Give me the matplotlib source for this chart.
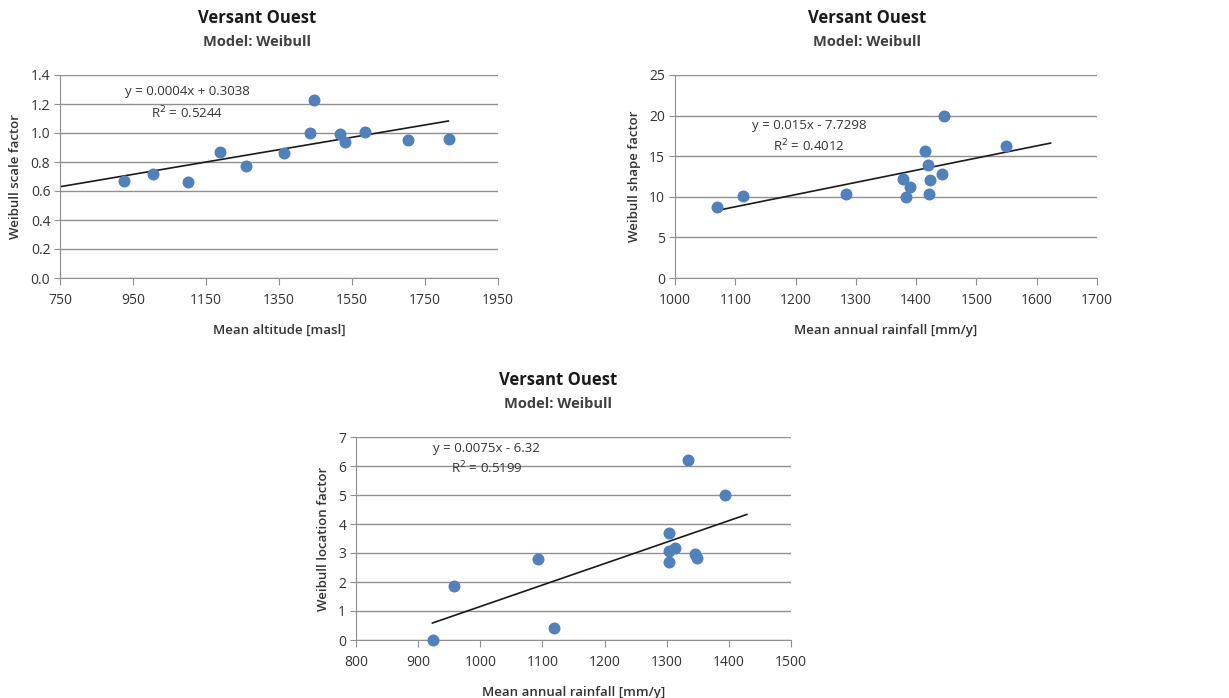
import matplotlib
matplotlib.use("Agg")
import matplotlib.pyplot as plt
import numpy as np

plt.rcParams['font.family'] = ['Open Sans', 'DejaVu Sans']

# ---------------- data ----------------
# Chart 1: scale factor vs altitude
alt_x = [925, 1006, 1100, 1189, 1259, 1365, 1436, 1445, 1517, 1530, 1586, 1704, 1817]
scale_y = [0.67, 0.72, 0.66, 0.87, 0.77, 0.86, 1.00, 1.23, 0.99, 0.94, 1.01, 0.95, 0.96]
trend1_coef = [0.000426, 0.31]
trend1_x = [750, 1814]
eq1 = ["y = 0.0004x + 0.3038", "R$^2$ = 0.5244"]

# Chart 2: shape factor vs rainfall
rain2_x = [1070, 1113, 1283, 1379, 1383, 1389, 1414, 1420, 1421, 1423, 1443, 1447, 1549]
shape_y = [8.7, 10.1, 10.3, 12.2, 10.0, 11.2, 15.6, 13.9, 10.3, 12.1, 12.8, 20.0, 16.2]
trend2_coef = [0.015, -7.7298]
trend2_x = [1069, 1623]
eq2 = ["y = 0.015x - 7.7298", "R$^2$ = 0.4012"]

# Chart 3: location factor vs rainfall
rain3_x = [924, 958, 1093, 1118, 1304, 1304, 1304, 1314, 1335, 1346, 1348, 1394]
loc_y = [0.0, 1.85, 2.79, 0.41, 3.68, 3.06, 2.70, 3.16, 6.22, 2.98, 2.82, 5.0]
trend3_coef = [0.0074, -6.245]
trend3_x = [923, 1429]
eq3 = ["y = 0.0075x - 6.32", "R$^2$ = 0.5199"]

title = "Versant Ouest"
subtitle = "Model: Weibull"

W, H = 1229, 698
fig = plt.figure(figsize=(W / 100, H / 100), dpi=100)


def rect(l, t, r, b):
    return [l / W, 1 - b / H, (r - l) / W, (b - t) / H]


GRID = '#8f8f8f'
TXT = '#333333'
BLUE = '#4F81BD'


def make(r, xs, ys, xlim, xticks, ylim, yticks, yfmt, coef, tx, eq, eqpos,
         xlabel, ylabel, tcx, tty):
    ax = fig.add_axes(rect(*r))
    ax.set_xlim(*xlim)
    ax.set_ylim(*ylim)
    ax.set_xticks(xticks)
    ax.set_yticks(yticks)
    ax.set_yticklabels([yfmt.format(v) for v in yticks])
    for s in ['top', 'right']:
        ax.spines[s].set_visible(False)
    ax.spines['left'].set_color(GRID)
    ax.spines['bottom'].set_color(GRID)
    ax.yaxis.grid(True, color=GRID, lw=1.0)
    ax.set_axisbelow(True)
    ax.tick_params(axis='x', direction='out', length=5, color=GRID,
                   labelsize=10, labelcolor=TXT, pad=6)
    ax.tick_params(axis='y', direction='out', length=4, color=GRID,
                   labelsize=10, labelcolor=TXT, pad=3)
    ax.scatter(xs, ys, s=58, color=BLUE, zorder=3, clip_on=False)
    xx = np.array(tx, dtype=float)
    ax.plot(xx, coef[0] * xx + coef[1], color='#1a1a1a', lw=1.2, zorder=2)
    ax.text(eqpos[0], eqpos[1], eq[0], ha='center', va='center', fontsize=9.5, color=TXT)
    ax.text(eqpos[0], eqpos[2], eq[1], ha='center', va='center', fontsize=9.5, color=TXT)
    ax.set_xlabel(xlabel, fontsize=9.5, color=TXT, fontweight='semibold', labelpad=11)
    ax.set_ylabel(ylabel, fontsize=9.5, color=TXT, fontweight='semibold', labelpad=6)
    fig.text(tcx / W, 1 - tty / H, title, ha='center', va='center',
             fontsize=12, fontweight='bold', color='#1a1a1a')
    fig.text(tcx / W, 1 - (tty + 24) / H, subtitle, ha='center', va='center',
             fontsize=10.5, fontweight='bold', color='#404040')
    return ax


make((60, 75, 498, 278), alt_x, scale_y, (750, 1950), list(range(750, 1951, 200)),
     (0, 1.4), [0.0, 0.2, 0.4, 0.6, 0.8, 1.0, 1.2, 1.4], "{:.1f}",
     trend1_coef, trend1_x, eq1, (1098, 1.285, 1.14),
     "Mean altitude [masl]", "Weibull scale factor", 257, 18)

make((675, 75, 1097, 278), rain2_x, shape_y, (1000, 1700), list(range(1000, 1701, 100)),
     (0, 25), [0, 5, 10, 15, 20, 25], "{:d}",
     trend2_coef, trend2_x, eq2, (1222, 18.8, 16.3),
     "Mean annual rainfall [mm/y]", "Weibull shape factor", 867, 18)

make((356, 437, 791, 640), rain3_x, loc_y, (800, 1500), list(range(800, 1501, 100)),
     (0, 7), [0, 1, 2, 3, 4, 5, 6, 7], "{:d}",
     trend3_coef, trend3_x, eq3, (1010, 6.6, 5.92),
     "Mean annual rainfall [mm/y]", "Weibull location factor", 558, 380)

fig.savefig("out.png", dpi=100, facecolor='white')
